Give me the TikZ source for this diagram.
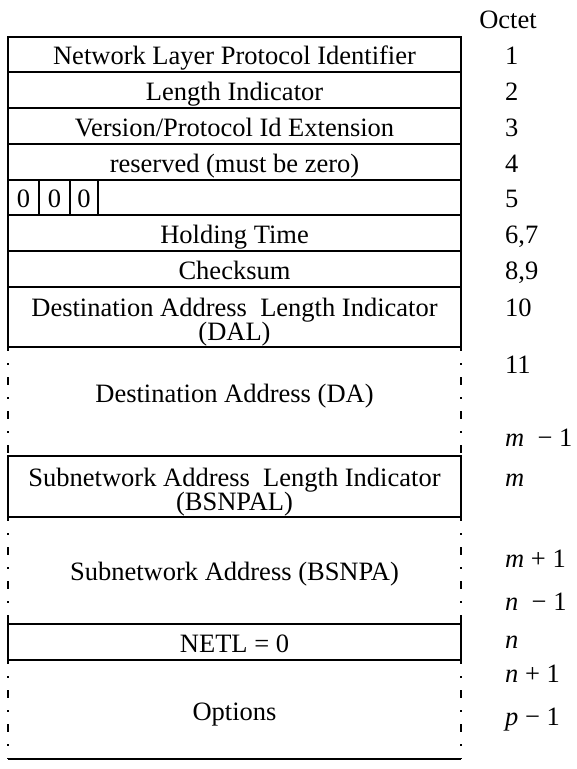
\documentclass[tikz,border=0pt]{standalone}
\usepackage{fontspec}
\setmainfont{Liberation Serif}
\begin{document}
\begin{tikzpicture}[x=1pt,y=-1pt,
  font=\fontsize{26.5}{24}\selectfont,
  lbl/.style={anchor=base,inner sep=0pt},
  num/.style={anchor=base west,inner sep=0pt},
  fbox/.style={draw,line width=1.8pt},
  dside/.style={line width=1.8pt,dash pattern=on 8pt off 12pt on 2pt off 12pt,dash phase=4pt}]
\useasboundingbox (0,0) rectangle (577,769);
% solid boxes
\draw[fbox] (8,37) rectangle (461,72);
\draw[fbox] (8,72) rectangle (461,108);
\draw[fbox] (8,108) rectangle (461,144);
\draw[fbox] (8,144) rectangle (461,180);
\draw[fbox] (8,180) rectangle (461,215);
\draw[fbox] (39,180) -- (39,215) (70,180) -- (70,215) (98,180) -- (98,215);
\draw[fbox] (8,215) rectangle (461,251);
\draw[fbox] (8,251) rectangle (461,287);
\draw[fbox] (8,287) rectangle (461,347);
\draw[fbox] (8,456) rectangle (461,517);
\draw[fbox] (8,624) rectangle (461,660);
% dashed regions
\draw[dside] (8,347) -- (8,456);
\draw[dside] (461,347) -- (461,456);
\draw[dside] (8,517) -- (8,624);
\draw[dside] (461,517) -- (461,624);
\draw[dside] (8,660) -- (8,759);
\draw[dside] (461,660) -- (461,759);
\draw[fbox] (8,759) -- (461,759);
% texts
\node[lbl] (t1) at (234.5,64) {Network Layer Protocol Identifier};
\node[lbl] (t2) at (234.5,100) {Length Indicator};
\node[lbl] (t3) at (234.5,136) {Version/Protocol Id Extension};
\node[lbl] (t4) at (234.5,172) {reserved (must be zero)};
\node[lbl] (z1) at (23.5,207) {0};
\node[lbl] (z2) at (54.5,207) {0};
\node[lbl] (z3) at (84,207) {0};
\node[lbl] (t6) at (234.5,243) {Holding Time};
\node[lbl] (t7) at (234.5,279) {Checksum};
\node[lbl] (t8a) at (234.5,316) {Destination Address\ \ Length Indicator};
\node[lbl] (t8b) at (234.5,340) {(DAL)};
\node[lbl] (t9) at (234.5,402) {Destination Address (DA)};
\node[lbl] (t10a) at (234.5,486) {Subnetwork Address\ \ Length Indicator};
\node[lbl] (t10b) at (234.5,510) {(BSNPAL)};
\node[lbl] (t11) at (234.5,580) {Subnetwork Address (BSNPA)};
\node[lbl] (t12) at (234.5,652) {NETL = 0};
\node[lbl] (t13) at (234.5,720) {Options};
% octet numbers
\node[lbl] (oct) at (508,28) {Octet};
\node[num] (n1) at (505,64) {1};
\node[num] (n2) at (505,100) {2};
\node[num] (n3) at (505,136) {3};
\node[num] (n4) at (505,172) {4};
\node[num] (n5) at (505,207) {5};
\node[num] (n6) at (505,243) {6,7};
\node[num] (n8) at (505,279) {8,9};
\node[num] (n10) at (505,316) {10};
\node[num] (n11) at (505,373) {11};
\node[num] (nm1) at (505,446) {\itshape m\upshape\ \ − 1};
\node[num] (nm) at (505,486) {\itshape m};
\node[num] (nmp) at (505,567) {\itshape m\upshape\ + 1};
\node[num] (nn1) at (505,610) {\itshape n\upshape\ \ − 1};
\node[num] (nn) at (505,648) {\itshape n};
\node[num] (nnp) at (505,682) {\itshape n\upshape\ + 1};
\node[num] (np1) at (505,725) {\itshape p\upshape\ − 1};
\end{tikzpicture}
\end{document}
